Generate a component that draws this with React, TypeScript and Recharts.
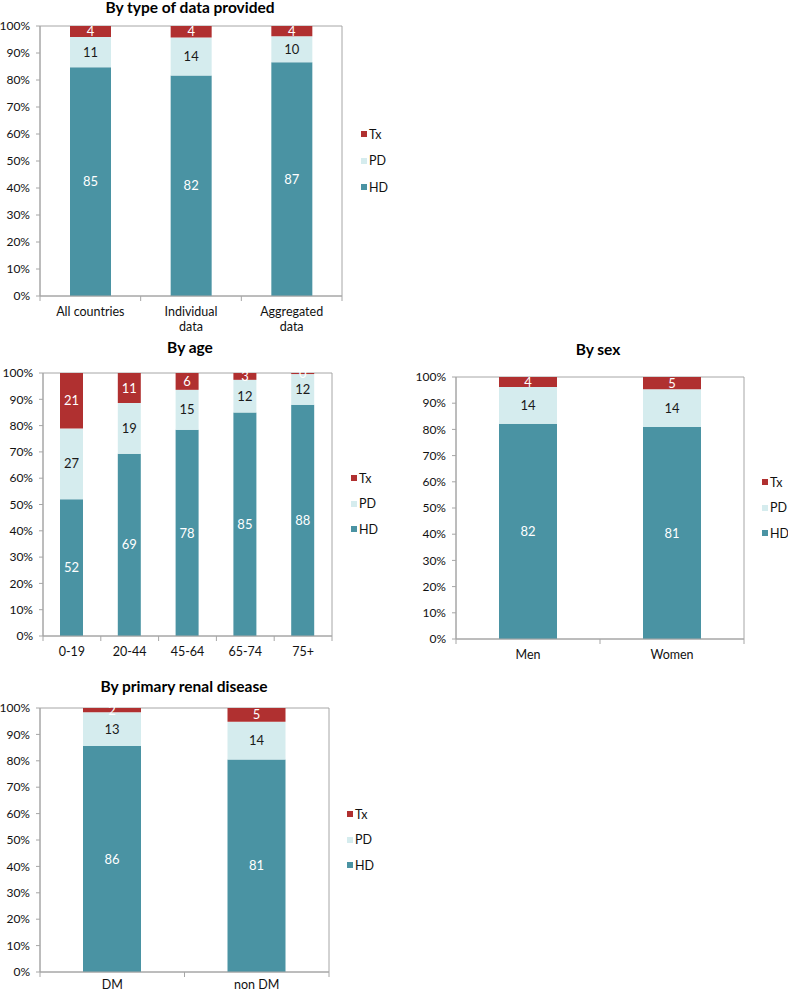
import React from 'react';
import { BarChart, Bar, XAxis, YAxis, LabelList, ReferenceArea } from 'recharts';

const HD_COLOR = '#4a93a3';
const PD_COLOR = '#d5ecee';
const TX_COLOR = '#b03030';
const AXIS_COLOR = '#a6a6a6';
const FONT = 'Lato, "Liberation Sans", sans-serif';

// By type of data provided
const typeCategories = ['All countries', 'Individual\ndata', 'Aggregated\ndata'];
const typeHD = [84.7, 81.7, 86.6];
const typePD = [11.2, 14.0, 9.6];
const typeTx = [4.1, 4.3, 3.8];

// By age
const ageCategories = ['0-19', '20-44', '45-64', '65-74', '75+'];
const ageHD = [52.0, 69.3, 78.4, 85.0, 87.9];
const agePD = [26.9, 19.3, 15.2, 12.4, 11.7];
const ageTx = [21.1, 11.4, 6.4, 2.6, 0.4];

// By sex
const sexCategories = ['Men', 'Women'];
const sexHD = [82.2, 80.9];
const sexPD = [14.0, 14.4];
const sexTx = [3.8, 4.7];

// By primary renal disease
const prdCategories = ['DM', 'non DM'];
const prdHD = [85.6, 80.5];
const prdPD = [12.8, 14.3];
const prdTx = [1.6, 5.2];

const yTicks = [0, 10, 20, 30, 40, 50, 60, 70, 80, 90, 100];

const series = [
  { key: 'HD', color: HD_COLOR, labelColor: '#ffffff' },
  { key: 'PD', color: PD_COLOR, labelColor: '#1a1a1a' },
  { key: 'Tx', color: TX_COLOR, labelColor: '#ffffff' },
];

function buildRows(categories: string[], hd: number[], pd: number[], tx: number[]) {
  return categories.map((name, i) => ({ name, HD: hd[i], PD: pd[i], Tx: tx[i] }));
}

interface Layout {
  left: number;
  right: number;
  top: number;
  bottom: number;
  barSize: number;
  titleX: number;
  titleBaseline: number;
  legendX: number;
  legendY: number;
  legendStep: number;
  labelGap: number;
}

const PAD_L = 50;
const PAD_R = 6;
const PAD_T = 8;
const AXIS_H = 44;
const TITLE_SIZE = 15.5;

function StackPanel({ title, rows, layout }: { title: string; rows: any[]; layout: Layout }) {
  const plotW = layout.right - layout.left;
  const plotH = layout.bottom - layout.top;
  const band = plotW / rows.length;
  const width = plotW + PAD_L + PAD_R;
  const height = plotH + PAD_T + AXIS_H;

  // category label plus tick marks at the band edges (Excel style)
  const renderTick = (props: any) => {
    const { x, y, payload, index } = props;
    const lines = String(payload.value).split('\n');
    const half = band / 2;
    return (
      <g>
        <line x1={x - half} x2={x - half} y1={y} y2={y + 5} stroke={AXIS_COLOR} />
        {index === rows.length - 1 && (
          <line x1={x + half} x2={x + half} y1={y} y2={y + 5} stroke={AXIS_COLOR} />
        )}
        <text x={x} y={y + layout.labelGap} textAnchor="middle" fontSize={12.5} fill="#111">
          {lines.map((l, i) => (
            <tspan key={i} x={x} dy={i === 0 ? 0 : 15}>
              {l}
            </tspan>
          ))}
        </text>
      </g>
    );
  };

  const legendItems = [...series].reverse();

  return (
    <>
      <div
        style={{
          position: 'absolute',
          left: layout.titleX - 150,
          width: 300,
          top: layout.titleBaseline - 0.887 * TITLE_SIZE,
          fontSize: TITLE_SIZE,
          lineHeight: `${TITLE_SIZE}px`,
          fontWeight: 700,
          textAlign: 'center',
          color: '#000',
        }}
      >
        {title}
      </div>
      <div style={{ position: 'absolute', left: layout.left - PAD_L, top: layout.top - PAD_T }}>
        <BarChart
          width={width}
          height={height}
          data={rows}
          margin={{ top: PAD_T, right: PAD_R, left: 0, bottom: 0 }}
          barSize={layout.barSize}
        >
          <XAxis
            dataKey="name"
            height={AXIS_H}
            interval={0}
            tickLine={false}
            tickSize={0}
            tickMargin={0}
            tick={renderTick}
            axisLine={{ stroke: AXIS_COLOR }}
          />
          <YAxis
            width={PAD_L}
            domain={[0, 100]}
            ticks={yTicks}
            interval={0}
            tickFormatter={(v) => `${v}%`}
            tickSize={4}
            tickMargin={6}
            axisLine={{ stroke: AXIS_COLOR }}
            tickLine={{ stroke: AXIS_COLOR }}
            tick={{ fill: '#111', fontSize: 12 }}
          />
          <ReferenceArea y1={0} y2={100} fill="none" stroke={AXIS_COLOR} ifOverflow="visible" />
          {series.map((s) => (
            <Bar key={s.key} dataKey={s.key} stackId="a" fill={s.color} isAnimationActive={false}>
              <LabelList
                dataKey={s.key}
                position="center"
                formatter={(v: any) => Math.round(Number(v))}
                fill={s.labelColor}
                fontSize={13}
              />
            </Bar>
          ))}
        </BarChart>
      </div>
      {legendItems.map((s, i) => (
        <div
          key={s.key}
          style={{
            position: 'absolute',
            left: layout.legendX,
            top: layout.legendY + i * layout.legendStep - 7,
            height: 14,
            display: 'flex',
            alignItems: 'center',
            fontSize: 12.5,
            color: '#111',
            whiteSpace: 'nowrap',
          }}
        >
          <span style={{ width: 6, height: 6, background: s.color, marginRight: 2, display: 'inline-block' }} />
          <span>{s.key}</span>
        </div>
      ))}
    </>
  );
}

const typeLayout: Layout = {
  left: 40, right: 342, top: 26, bottom: 296, barSize: 41,
  titleX: 190, titleBaseline: 14, legendX: 361, legendY: 134, legendStep: 26.7, labelGap: 20,
};
const ageLayout: Layout = {
  left: 43, right: 332, top: 373, bottom: 636, barSize: 23,
  titleX: 190, titleBaseline: 354, legendX: 351, legendY: 478, legendStep: 25.5, labelGap: 20,
};
const sexLayout: Layout = {
  left: 456, right: 744, top: 377, bottom: 639, barSize: 58,
  titleX: 598, titleBaseline: 356, legendX: 762, legendY: 482, legendStep: 25.7, labelGap: 20,
};
const prdLayout: Layout = {
  left: 40, right: 329, top: 708, bottom: 972, barSize: 58,
  titleX: 184, titleBaseline: 692.5, legendX: 347, legendY: 814, legendStep: 25.5, labelGap: 17,
};

export default function App() {
  return (
    <div
      style={{
        position: 'absolute',
        left: 0,
        top: 0,
        width: 788,
        height: 992,
        overflow: 'hidden',
        background: '#fff',
        fontFamily: FONT,
      }}
    >
      <StackPanel title="By type of data provided" rows={buildRows(typeCategories, typeHD, typePD, typeTx)} layout={typeLayout} />
      <StackPanel title="By age" rows={buildRows(ageCategories, ageHD, agePD, ageTx)} layout={ageLayout} />
      <StackPanel title="By sex" rows={buildRows(sexCategories, sexHD, sexPD, sexTx)} layout={sexLayout} />
      <StackPanel title="By primary renal disease" rows={buildRows(prdCategories, prdHD, prdPD, prdTx)} layout={prdLayout} />
    </div>
  );
}
